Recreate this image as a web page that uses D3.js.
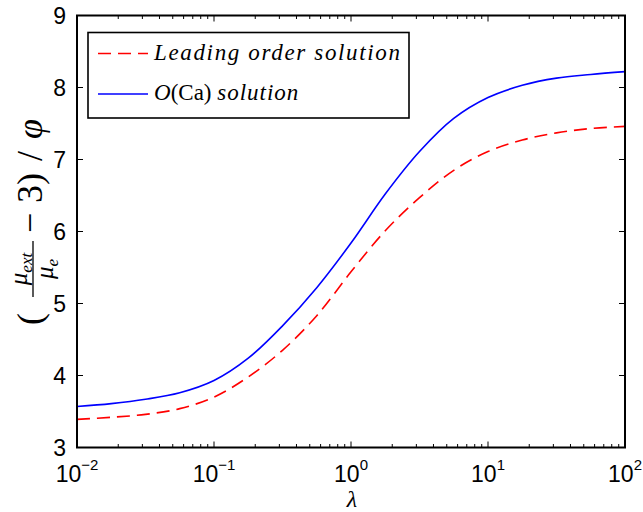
<!DOCTYPE html>
<html>
<head>
<meta charset="utf-8">
<script src="https://cdn.jsdelivr.net/npm/d3@7"></script>
<style>
body { margin: 0; background: #fff; }
</style>
</head>
<body>
<svg id="chart" width="643" height="512"></svg>
<script>
var logLambda = [-2, -1.75, -1.5, -1.25, -1, -0.75, -0.5, -0.25, 0, 0.25, 0.5, 0.75, 1, 1.25, 1.5, 1.75, 2];
var leadingOrder = [3.39, 3.42, 3.46, 3.54, 3.70, 3.98, 4.35, 4.83, 5.44, 6.01, 6.47, 6.85, 7.11, 7.27, 7.37, 7.43, 7.46];
var caOrder = [3.57, 3.61, 3.67, 3.76, 3.93, 4.24, 4.69, 5.22, 5.84, 6.52, 7.11, 7.57, 7.86, 8.03, 8.13, 8.18, 8.22];
var yTicks = [3, 4, 5, 6, 7, 8, 9];
var xDecades = [-2, -1, 0, 1, 2];

var w = 643, h = 512,
	x0 = 77, x1 = 625,
	y0 = 15.5, y1 = 447.5;

var svg = d3.select('#chart');

var x = d3.scaleLog().domain([1e-2, 1e2]).range([x0, x1]);
var y = d3.scaleLinear().domain([3, 9]).range([y1, y0]);

// minor ticks 2..9 inside each decade
var minor = [];
xDecades.slice(0, -1).forEach(function(e) {
	for (var k = 2; k < 10; k++) minor.push(k * Math.pow(10, e));
});

var ticks = svg.append('g').attr('stroke', '#000').attr('stroke-width', 1);
ticks.selectAll('.xmaj').data(xDecades).enter().append('line')
	.attr('x1', function(d) { return x(Math.pow(10, d)) }).attr('x2', function(d) { return x(Math.pow(10, d)) })
	.attr('y1', y1).attr('y2', y1 - 6);
ticks.selectAll('.xmajt').data(xDecades).enter().append('line')
	.attr('x1', function(d) { return x(Math.pow(10, d)) }).attr('x2', function(d) { return x(Math.pow(10, d)) })
	.attr('y1', y0).attr('y2', y0 + 6);
ticks.selectAll('.xmin').data(minor).enter().append('line')
	.attr('x1', x).attr('x2', x)
	.attr('y1', y1).attr('y2', y1 - 3.5);
ticks.selectAll('.xmint').data(minor).enter().append('line')
	.attr('x1', x).attr('x2', x)
	.attr('y1', y0).attr('y2', y0 + 3.5);
ticks.selectAll('.yl').data(yTicks).enter().append('line')
	.attr('x1', x0).attr('x2', x0 + 6)
	.attr('y1', y).attr('y2', y);
ticks.selectAll('.yr').data(yTicks).enter().append('line')
	.attr('x1', x1).attr('x2', x1 - 6)
	.attr('y1', y).attr('y2', y);

// tick labels
svg.append('g').selectAll('text').data(yTicks).enter().append('text')
	.attr('x', x0 - 11).attr('y', function(d) { return y(d) + 8 })
	.attr('text-anchor', 'end')
	.style('font', '23px "Liberation Sans", Arial, sans-serif')
	.text(function(d) { return d });

var xl = svg.append('g').selectAll('text').data(xDecades).enter().append('text')
	.attr('x', function(d) { return x(Math.pow(10, d)) }).attr('y', 482)
	.attr('text-anchor', 'middle')
	.style('font', '23px "Liberation Sans", Arial, sans-serif');
xl.append('tspan').text('10');
xl.append('tspan').attr('dy', -12).style('font-size', '15px')
	.text(function(d) { return d < 0 ? '\u2212' + (-d) : d });

// curves
var line = d3.line()
	.x(function(d) { return x(Math.pow(10, d[0])) })
	.y(function(d) { return y(d[1]) })
	.curve(d3.curveCatmullRom.alpha(0.5));

svg.append('path')
	.datum(d3.zip(logLambda, leadingOrder))
	.attr('d', line)
	.attr('fill', 'none').attr('stroke', '#ff0000').attr('stroke-width', 1.6)
	.attr('stroke-dasharray', '13,7');
svg.append('path')
	.datum(d3.zip(logLambda, caOrder))
	.attr('d', line)
	.attr('fill', 'none').attr('stroke', '#0000ff').attr('stroke-width', 1.6);

// axes box
svg.append('rect')
	.attr('x', x0).attr('y', y0)
	.attr('width', x1 - x0).attr('height', y1 - y0)
	.attr('fill', 'none').attr('stroke', '#000').attr('stroke-width', 2);

// legend
var lg = svg.append('g');
lg.append('rect').attr('x', 88).attr('y', 32.5).attr('width', 321).attr('height', 85.5)
	.attr('fill', '#fff').attr('stroke', '#000').attr('stroke-width', 1.6);
lg.append('line').attr('x1', 98).attr('x2', 148).attr('y1', 53.5).attr('y2', 53.5)
	.attr('stroke', '#ff0000').attr('stroke-width', 1.6).attr('stroke-dasharray', '13,7');
lg.append('line').attr('x1', 98).attr('x2', 148).attr('y1', 94).attr('y2', 94)
	.attr('stroke', '#0000ff').attr('stroke-width', 1.6);
lg.append('text').attr('x', 154).attr('y', 60)
	.attr('textLength', 246).attr('lengthAdjust', 'spacing')
	.style('font', 'italic 23px "Liberation Serif", "DejaVu Serif", serif')
	.text('Leading order solution');
var t2 = lg.append('text').attr('x', 154).attr('y', 100)
	.style('font', '23px "Liberation Serif", "DejaVu Serif", serif');
t2.append('tspan').style('font-style', 'italic').text('O');
t2.append('tspan').text('(Ca) ');
t2.append('tspan').style('font-style', 'italic').attr('letter-spacing', 1).text('solution');

// x label
svg.append('text').attr('x', 352).attr('y', 507).attr('text-anchor', 'middle')
	.style('font', 'italic 24px "Liberation Serif", "DejaVu Serif", serif')
	.text('\u03bb');

// y label, built in its own rotated frame (baseline at image x = 42)
var yl = svg.append('g').attr('transform', 'translate(42,325) rotate(-90)')
	.style('font-family', '"Liberation Serif", "DejaVu Serif", serif');
yl.append('text').attr('x', 0).attr('y', 0).style('font-size', '36px').text('(');
yl.append('line').attr('x1', 28).attr('x2', 84).attr('y1', -9).attr('y2', -9)
	.attr('stroke', '#000').attr('stroke-width', 1.3);
var num = yl.append('text').attr('x', 56).attr('y', -15).attr('text-anchor', 'middle')
	.style('font-size', '25px').style('font-style', 'italic');
num.append('tspan').text('\u03bc');
num.append('tspan').attr('dy', 5).style('font-size', '17px').text('ext');
var den = yl.append('text').attr('x', 56).attr('y', 11).attr('text-anchor', 'middle')
	.style('font-size', '25px').style('font-style', 'italic');
den.append('tspan').text('\u03bc');
den.append('tspan').attr('dy', 5).style('font-size', '17px').text('e');
yl.append('text').attr('x', 92).attr('y', 0).style('font-size', '36px').text('\u2212');
yl.append('text').attr('x', 122).attr('y', 0).style('font-size', '36px').text('3)');
yl.append('text').attr('x', 164).attr('y', 0).style('font-size', '36px').text('/');
yl.append('text').attr('x', 186).attr('y', 0).style('font-size', '36px').style('font-style', 'italic').text('\u03c6');
</script>
</body>
</html>
